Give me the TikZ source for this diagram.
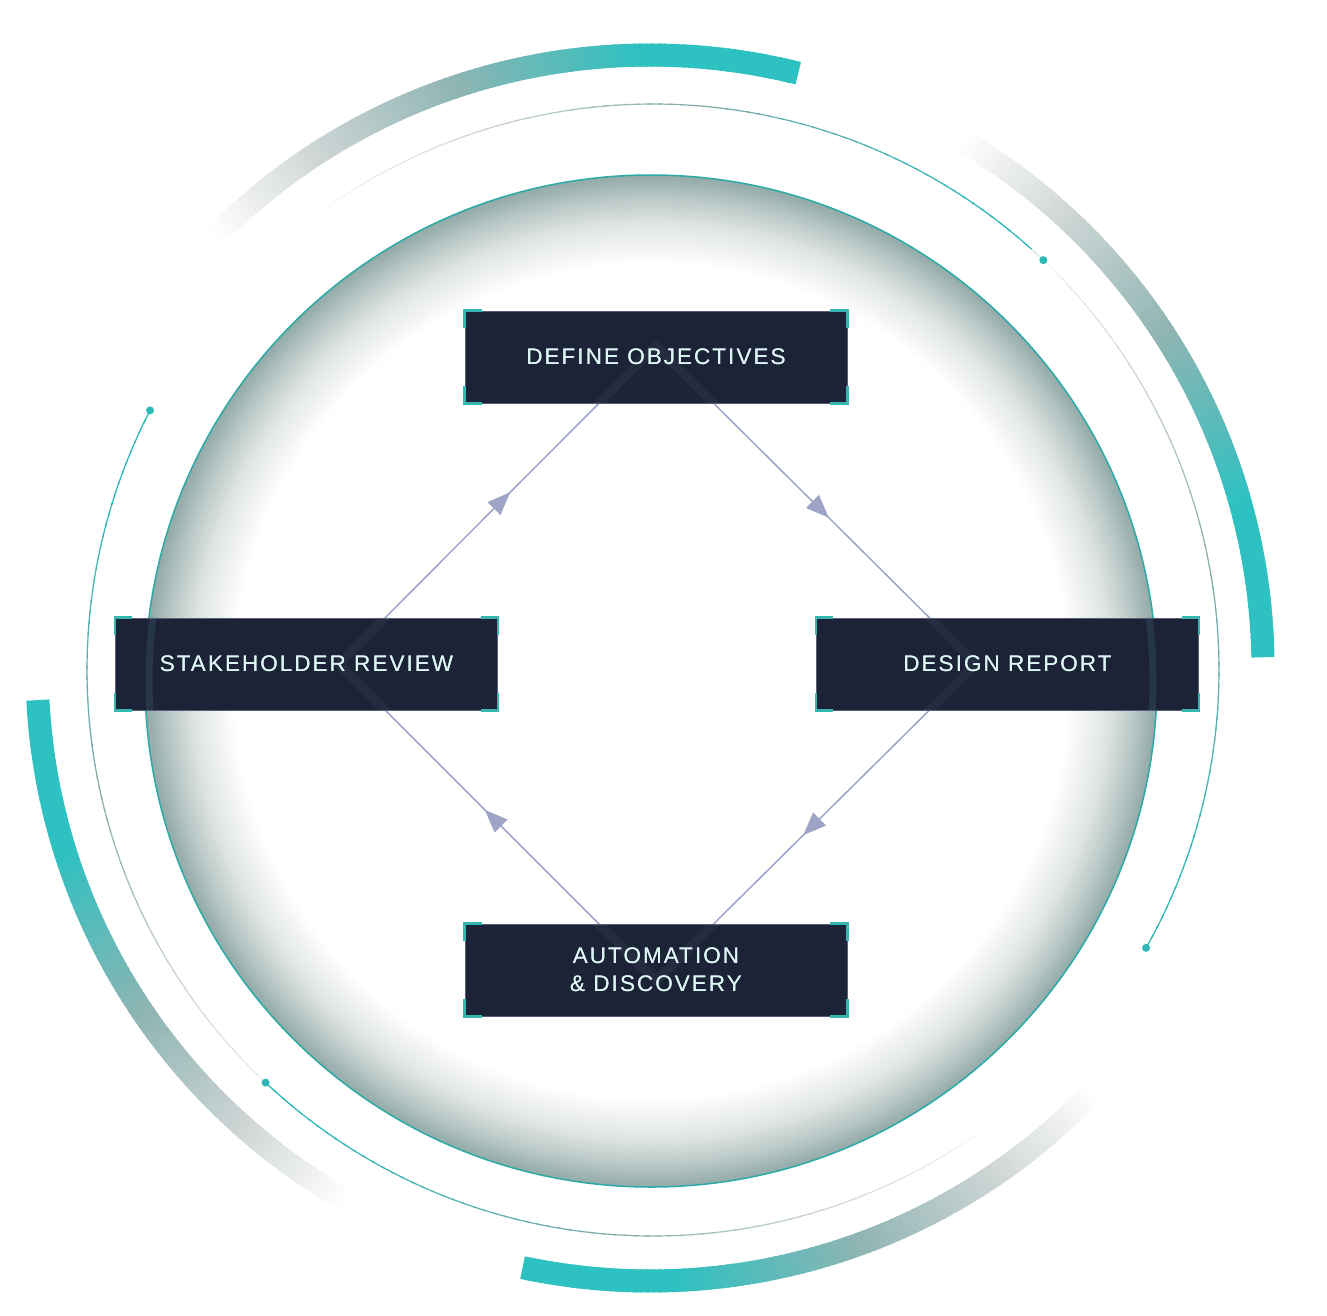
\documentclass[tikz,border=0pt]{standalone}
\usepackage{fontspec}
\newfontfamily\boxfont[LetterSpace=9]{Liberation Sans}
\usetikzlibrary{arrows.meta,decorations.markings}
\definecolor{boxc}{HTML}{1C2336}
\definecolor{boxedge}{HTML}{565D74}
\definecolor{brkc}{HTML}{36B6B1}
\definecolor{txtc}{HTML}{DDF6F5}
\definecolor{flowc}{HTML}{9DA4C5}
\definecolor{dotc}{HTML}{2DBAB7}
\definecolor{outlinec}{HTML}{2BAAA6}
\definecolor{rimA}{HTML}{E0E5E4}
\definecolor{rimB}{HTML}{B5C5C3}
\definecolor{rimC}{HTML}{92AAA8}
\definecolor{glassc}{HTML}{4A7A84}
\pgfdeclareradialshading{diskshade}{\pgfpointorigin}{color(0bp)=(white); color(20.6bp)=(white); color(22.6bp)=(rimA); color(24bp)=(rimB); color(25bp)=(rimC); color(50bp)=(rimC)}
% gradient arc: #1 cx, #2 cy, #3 radius, #4 width, #5 start angle (teal end), #6 end angle (faded end), #7 segments, #8 palette
\newcommand\gradarc[8]{%
  \foreach \i in {1,...,#7}{%
    \pgfmathsetmacro\ta{(\i-1)/#7}%
    \pgfmathsetmacro\tm{(\i-0.5)/#7}%
    \pgfmathsetmacro\aa{#5+(#6-#5)*\ta}%
    \pgfmathsetmacro\ab{min(#6,#5+(#6-#5)*\i/#7+0.35)}%
    \pgfmathtruncatemacro\cr{#8r(\tm)}%
    \pgfmathtruncatemacro\cg{#8g(\tm)}%
    \pgfmathtruncatemacro\cb{#8b(\tm)}%
    \definecolor{segc}{RGB}{\cr,\cg,\cb}%
    \draw[segc, line width=#4, line cap=butt] ({#1+#3*cos(\aa)},{#2-#3*sin(\aa)}) arc[start angle=\aa, end angle=\ab, radius=#3 pt];
  }%
}
\begin{document}
\begin{tikzpicture}[x=1pt,y=-1pt,
  declare function={
    ramp(\x,\p,\q)=min(1,max(0,(\x-\p)/(\q-\p)));
    thickr(\x)=46+97*ramp(\x,0.25,0.55)+65*ramp(\x,0.55,0.8)+47*ramp(\x,0.8,1);
    thickg(\x)=193-12*ramp(\x,0.25,0.55)+33*ramp(\x,0.55,0.8)+41*ramp(\x,0.8,1);
    thickb(\x)=193-14*ramp(\x,0.25,0.55)+35*ramp(\x,0.55,0.8)+41*ramp(\x,0.8,1);
    thinr(\x)=42+88*ramp(\x,0.12,0.5)+82*ramp(\x,0.5,0.8)+36*ramp(\x,0.8,1);
    thing(\x)=184-12*ramp(\x,0.12,0.5)+45*ramp(\x,0.5,0.8)+32*ramp(\x,0.8,1);
    thinb(\x)=182-11*ramp(\x,0.12,0.5)+46*ramp(\x,0.5,0.8)+32*ramp(\x,0.8,1);
  },
  box/.style={fill=boxc, draw=boxedge, line width=0.8pt, minimum width=382pt, minimum height=92pt,
    inner sep=0pt, text=txtc, font=\boxfont\fontsize{22.5}{28}\selectfont, align=center},
  boxtext/.style={box, fill=none, draw=none},
  brk/.style={draw=brkc, line width=2.5pt, line cap=butt, line join=miter},
  flow/.style={color=flowc, line width=1.5pt, postaction={decorate},
    decoration={markings, mark=at position 0.54 with {\arrow{Triangle[length=23pt,width=18pt]}}}},
  dot/.style={fill=dotc},
]
\useasboundingbox (0,0) rectangle (1327,1316);

% thick outer gradient arcs (centre 650,668)
\gradarc{650}{668}{613}{23pt}{76}{135}{100}{thick}
\gradarc{650}{668}{613}{23pt}{1}{59}{100}{thick}
\gradarc{650}{668}{613}{23pt}{183}{240}{100}{thick}
\gradarc{650}{668}{613}{23pt}{258}{316}{100}{thick}

% thin gradient arcs (centre 653,670)
\gradarc{653}{670}{566}{1.2pt}{46.4}{125}{70}{thin}
\gradarc{653}{670}{566}{1.2pt}{-29.4}{48}{70}{thin}
\gradarc{653}{670}{566}{1.2pt}{152.7}{231}{70}{thin}
\gradarc{653}{670}{566}{1.2pt}{226.8}{305}{70}{thin}
\fill[dot] ({653+566*cos(46.4)},{670-566*sin(46.4)}) circle[radius=4pt];
\fill[dot] ({653+566*cos(-29.4)},{670-566*sin(-29.4)}) circle[radius=4pt];
\fill[dot] ({653+566*cos(152.7)},{670-566*sin(152.7)}) circle[radius=4pt];
\fill[dot] ({653+566*cos(226.8)},{670-566*sin(226.8)}) circle[radius=4pt];

% inner shaded disk
\shade[shading=diskshade] (651,681) circle[radius=506pt];
\draw[outlinec, line width=1.5pt] (651,681) circle[radius=506pt];

% diamond vertices
\coordinate (vT) at (656,346);
\coordinate (vR) at (976,664);
\coordinate (vB) at (656,981);
\coordinate (vL) at (339,664);

\draw[flow] (vL) -- (vT);
\draw[flow] (vT) -- (vR);
\draw[flow] (vR) -- (vB);
\draw[flow] (vB) -- (vL);

% boxes
\node[box] (def) at (656,357) {DEFINE OBJECTIVES};
\node[box] (stk) at (306.5,664) {STAKEHOLDER REVIEW};
\node[box] (des) at (1007.5,664) {DESIGN REPORT};
\node[box] (aut) at (656,970) {AUTOMATION\\\& DISCOVERY};

% faint glass effects inside boxes
\foreach \n in {def,stk,des,aut}{
  \begin{scope}
    \clip (\n.north west) rectangle (\n.south east);
    \draw[flowc, line width=9pt, opacity=0.07, line join=round] (vL) -- (vT) -- (vR) -- (vB) -- cycle;
    \draw[glassc, line width=7pt, opacity=0.22] (651,681) circle[radius=502pt];
  \end{scope}
}
% text over the effects
\node[boxtext] (deft) at (def.center) {DEFINE OBJECTIVES};
\node[boxtext] (stkt) at (stk.center) {STAKEHOLDER REVIEW};
\node[boxtext] (dest) at (des.center) {DESIGN REPORT};
\node[boxtext] (autt) at (aut.center) {AUTOMATION\\\& DISCOVERY};

% corner brackets
\foreach \n in {def,stk,des,aut}{
  \draw[brk] ([yshift=-17pt]\n.north west) -- (\n.north west) -- ([xshift=17pt]\n.north west);
  \draw[brk] ([xshift=-17pt]\n.north east) -- (\n.north east) -- ([yshift=-17pt]\n.north east);
  \draw[brk] ([yshift=17pt]\n.south west) -- (\n.south west) -- ([xshift=17pt]\n.south west);
  \draw[brk] ([xshift=-17pt]\n.south east) -- (\n.south east) -- ([yshift=17pt]\n.south east);
}
\end{tikzpicture}
\end{document}
